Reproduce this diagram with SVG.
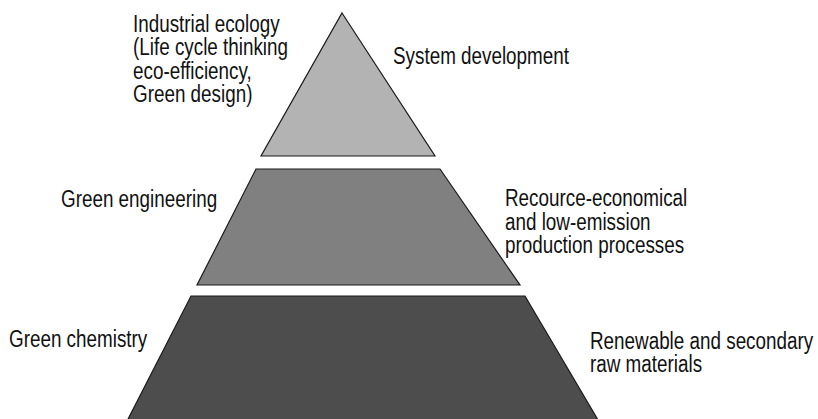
<svg xmlns="http://www.w3.org/2000/svg" width="818" height="419" viewBox="0 0 818 419">
<style>
.lvl{stroke:#1a1a1a;stroke-width:1.2;stroke-linejoin:miter}
.t{font-family:"Liberation Sans",Arial,sans-serif;font-size:23px;fill:#111}
</style>
<rect width="818" height="419" fill="#fff"/>
<g id="top-level">
<polygon class="lvl" points="342,13 435,156 261,156" fill="#b3b3b3"/>
</g>
<g id="middle-level">
<polygon class="lvl" points="256,169 440,169 520,285 197,285" fill="#808080"/>
</g>
<g id="bottom-level">
<polygon class="lvl" points="191,296 525,296 601,425 125,425" fill="#4d4d4d"/>
</g>
<g id="label-industrial-ecology" transform="translate(133,0) scale(0.82,1)">
<text class="t" x="0" y="32">Industrial ecology</text>
<text class="t" x="0" y="55">(Life cycle thinking</text>
<text class="t" x="0" y="79">eco-efficiency,</text>
<text class="t" x="0" y="102">Green design)</text>
</g>
<g id="label-system-development" transform="translate(393,0) scale(0.82,1)">
<text class="t" x="0" y="64">System development</text>
</g>
<g id="label-green-engineering" transform="translate(61,0) scale(0.82,1)">
<text class="t" x="0" y="207">Green engineering</text>
</g>
<g id="label-processes" transform="translate(505,0) scale(0.82,1)">
<text class="t" x="0" y="206">Recource-economical</text>
<text class="t" x="0" y="230">and low-emission</text>
<text class="t" x="0" y="253">production processes</text>
</g>
<g id="label-green-chemistry" transform="translate(9,0) scale(0.82,1)">
<text class="t" x="0" y="347">Green chemistry</text>
</g>
<g id="label-materials" transform="translate(590,0) scale(0.82,1)">
<text class="t" x="0" y="349">Renewable and secondary</text>
<text class="t" x="0" y="372">raw materials</text>
</g>
</svg>
